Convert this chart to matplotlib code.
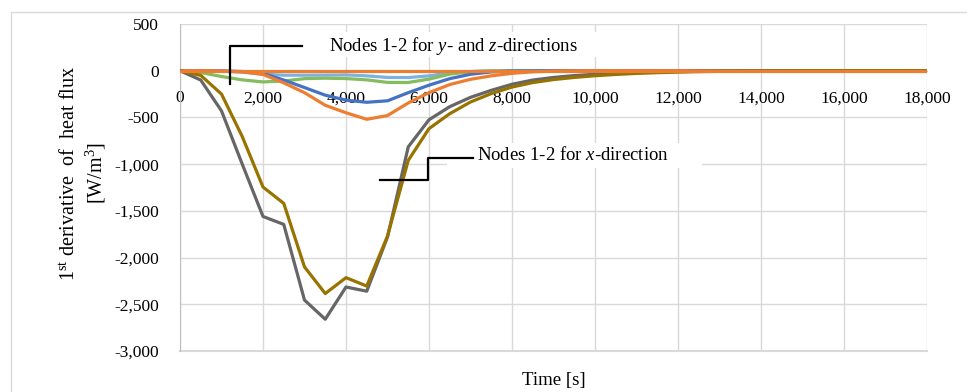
import numpy as np
import matplotlib
matplotlib.use("Agg")
import matplotlib.pyplot as plt
from matplotlib.patches import Rectangle
from matplotlib.ticker import FuncFormatter

plt.rcParams['font.family'] = ['Liberation Serif', 'DejaVu Serif']
plt.rcParams['mathtext.fontset'] = 'custom'
plt.rcParams['mathtext.rm'] = 'Liberation Serif'
plt.rcParams['mathtext.it'] = 'Liberation Serif:italic'

# time axis [s], every 500 s
time_s = list(range(0, 18001, 500))

# x-direction nodes
node_x_a = [0, -100, -430, -1000, -1560, -1645, -2455, -2660, -2315, -2360, -1780, -815,
            -525, -385, -285, -210, -145, -100, -72, -52, -38, -27, -19, -13, -9, -6,
            -4, -3, -2, -1, -1, 0, 0, 0, 0, 0, 0]
node_x_b = [0, -50, -250, -705, -1245, -1420, -2100, -2385, -2215, -2305, -1770, -960,
            -620, -460, -335, -245, -175, -127, -95, -72, -54, -40, -29, -21, -15, -10,
            -7, -5, -3, -2, -1, -1, 0, 0, 0, 0, 0]
# y- and z-direction nodes
node_y_a = [0, 0, -2, -8, -28, -100, -180, -262, -315, -338, -322, -235, -155, -85, -38,
            -13, -3, -1, 0, 0, 0, 0, 0, 0, 0, 0, 0, 0, 0, 0, 0, 0, 0, 0, 0, 0, 0]
node_y_b = [0, 0, -3, -12, -40, -130, -235, -370, -450, -520, -480, -345, -235, -148, -92,
            -55, -28, -12, -4, -1, 0, 0, 0, 0, 0, 0, 0, 0, 0, 0, 0, 0, 0, 0, 0, 0, 0]
node_z_a = [0, 0, -5, -15, -37, -48, -48, -47, -45, -55, -72, -73, -55, -23, -8, -2, 0,
            0, 0, 0, 0, 0, 0, 0, 0, 0, 0, 0, 0, 0, 0, 0, 0, 0, 0, 0, 0]
node_z_b = [0, -20, -62, -98, -120, -110, -85, -80, -84, -98, -125, -126, -90, -37, -10,
            -3, 0, 0, 0, 0, 0, 0, 0, 0, 0, 0, 0, 0, 0, 0, 0, 0, 0, 0, 0, 0, 0]
node_flat = [0] * len(time_s)

W, H = 967, 392
fig = plt.figure(figsize=(W / 100, H / 100), dpi=100)

# outer chart frame (cropped at right/bottom)
fig.patches.append(Rectangle((11 / W, -0.1), 1.0, (H - 12) / H + 0.1, transform=fig.transFigure,
                             fill=False, edgecolor='#D9D9D9', linewidth=1.0))

ax = fig.add_axes([180 / W, (H - 351) / H, (927 - 180) / W, (351 - 24) / H])

lw = 2.3
ax.plot(time_s, node_z_a, color='#7DB1E0', lw=lw, zorder=3)
ax.plot(time_s, node_z_b, color='#84BC5E', lw=lw, zorder=3)
ax.plot(time_s, node_y_a, color='#4472C4', lw=lw, zorder=4)
ax.plot(time_s, node_y_b, color='#ED7D31', lw=lw, zorder=4)
ax.plot(time_s, node_x_a, color='#666666', lw=lw, zorder=5)
ax.plot(time_s, node_x_b, color='#997300', lw=lw, zorder=5)
ax.plot(time_s, node_flat, color='#ED7D31', lw=lw, zorder=6)

ax.set_xlim(0, 18000)
ax.set_ylim(-3000, 500)
ax.set_xticks(range(0, 18001, 2000))
ax.set_yticks(range(-3000, 501, 500))
fmt = FuncFormatter(lambda v, p: f"{int(v):,}")
ax.xaxis.set_major_formatter(fmt)
ax.yaxis.set_major_formatter(fmt)

ax.grid(True, color='#D9D9D9', linewidth=1.0, zorder=0)
ax.set_axisbelow(True)
for s in ['top', 'right']:
    ax.spines[s].set_visible(False)
ax.spines['left'].set_color('#BFBFBF')
ax.spines['bottom'].set_position(('data', 0))
ax.spines['bottom'].set_color('#BFBFBF')
ax.tick_params(axis='both', length=0, labelsize=12.5, colors='black')
ax.tick_params(axis='x', pad=14)
ax.tick_params(axis='y', pad=15)
for lab in ax.get_xticklabels():
    lab.set_zorder(7)

# bottom gridline at -3000
ax.axhline(-3000, color='#D9D9D9', linewidth=1.5, zorder=0, clip_on=False)

# axis titles
fig.text(553.5 / W, 1 - 381 / H, 'Time [s]', ha='center', va='center', fontsize=13.5)
fig.text(84 / W, 1 - 173 / H, '1$^{\\rm st}$ derivative  of  heat flux\n[W/m$^{3}$]',
         ha='center', va='center', rotation=90, fontsize=14.5, linespacing=1.2)

# annotations with leader lines
def px(x, y):
    return x / W, 1 - y / H

fig.patches.append(Rectangle(px(305, 57), 300 / W, 25 / H, transform=fig.transFigure,
                             facecolor='white', edgecolor='none', zorder=2))
fig.text(*px(453, 46), 'Nodes 1-2 for $\\mathit{y}$- and $\\mathit{z}$-directions',
         ha='center', va='center', fontsize=13.5, zorder=8)
fig.lines.append(plt.Line2D([230 / W, 230 / W, 302 / W], [1 - 84 / H, 1 - 46 / H, 1 - 46 / H],
                            transform=fig.transFigure, color='black', lw=1.6, zorder=8))

fig.patches.append(Rectangle(px(447, 168), 255 / W, 25 / H, transform=fig.transFigure,
                             facecolor='white', edgecolor='none', zorder=2))
fig.text(*px(573, 155), 'Nodes 1-2 for $\\mathit{x}$-direction',
         ha='center', va='center', fontsize=13.5, zorder=8)
fig.lines.append(plt.Line2D([380 / W, 428 / W, 428 / W, 473 / W],
                            [1 - 180 / H, 1 - 180 / H, 1 - 157.5 / H, 1 - 157.5 / H],
                            transform=fig.transFigure, color='black', lw=1.6, zorder=8))

fig.savefig('out.png', dpi=100)
